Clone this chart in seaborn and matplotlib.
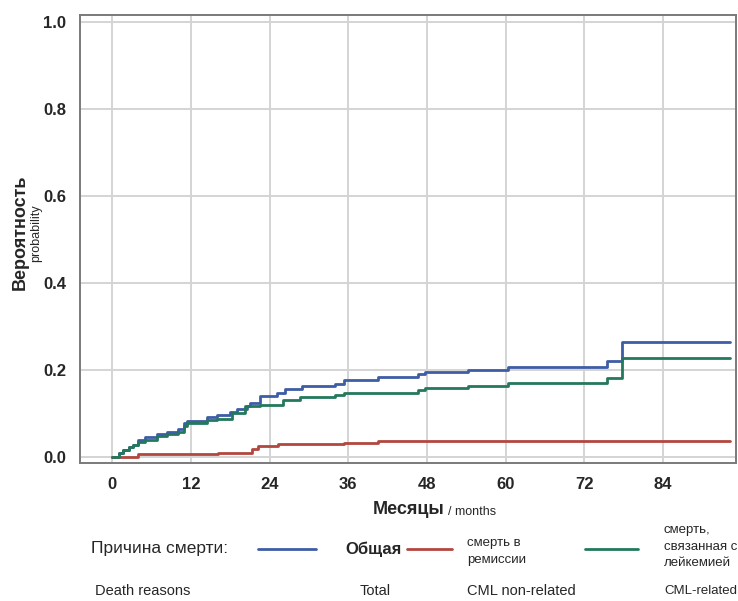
import matplotlib
matplotlib.use("Agg")
import matplotlib.pyplot as plt
from matplotlib.lines import Line2D
import seaborn as sns
import pandas as pd

# ---- data ----
total_t = [0, 1.0, 1.7, 2.5, 3.2, 4.0, 5.0, 6.8, 8.3, 10.1, 10.9, 11.4, 14.4, 16.0, 18.0, 19.0,
           20.5, 21.0, 22.6, 25.1, 26.4, 28.9, 34.0, 35.3, 40.6, 46.7, 47.7, 54.3, 60.4, 75.4, 77.7, 94.2]
total_y = [0, 0.008, 0.016, 0.022, 0.028, 0.039, 0.045, 0.053, 0.058, 0.064, 0.077, 0.083, 0.091, 0.097,
           0.104, 0.110, 0.116, 0.125, 0.139, 0.146, 0.156, 0.162, 0.168, 0.177, 0.183, 0.190, 0.196,
           0.200, 0.206, 0.221, 0.265, 0.265]

cml_t = [0, 1.0, 1.7, 2.5, 3.2, 4.0, 5.0, 6.8, 8.3, 10.1, 10.9, 11.4, 14.4, 16.0, 18.2, 20.3, 22.6,
         26.1, 28.7, 34.0, 35.3, 46.7, 47.7, 54.3, 60.4, 75.4, 77.7, 94.2]
cml_y = [0, 0.008, 0.016, 0.022, 0.028, 0.035, 0.040, 0.047, 0.052, 0.058, 0.071, 0.077, 0.084, 0.088,
         0.100, 0.116, 0.120, 0.131, 0.137, 0.143, 0.147, 0.154, 0.159, 0.163, 0.169, 0.181, 0.227, 0.227]

rem_t = [0, 4.0, 16.2, 21.3, 22.3, 25.3, 35.4, 40.6, 94.2]
rem_y = [0, 0.006, 0.010, 0.018, 0.024, 0.029, 0.033, 0.037, 0.037]

series_names = ["Общая", "смерть в ремиссии", "смерть, связанная с лейкемией"]
series_colors = ["#3d5da6", "#b2473f", "#23795c"]

x_ticks = [0, 12, 24, 36, 48, 60, 72, 84]
y_ticks = [0.0, 0.2, 0.4, 0.6, 0.8, 1.0]

# ---- build table ----
frames = []
for name, t, y in zip(series_names, [total_t, rem_t, cml_t], [total_y, rem_y, cml_y]):
    frames.append(pd.DataFrame({"t": t, "p": y, "s": name}))
df = pd.concat(frames, ignore_index=True)

sns.set_style("whitegrid")
plt.rcParams["font.family"] = ["Liberation Sans Narrow", "Liberation Sans", "DejaVu Sans"]

fig = plt.figure(figsize=(7.38, 6.01), dpi=100)
ax = fig.add_axes([80 / 738, 1 - 463 / 601, (736 - 80) / 738, (463 - 15) / 601])

sns.lineplot(data=df, x="t", y="p", hue="s", hue_order=series_names,
             palette=dict(zip(series_names, series_colors)), estimator=None,
             drawstyle="steps-post", linewidth=2.0, legend=False, ax=ax, sort=False)

ax.set_xlim(-4.9, 95.1)
ax.set_ylim(-0.014, 1.016)
ax.set_xticks(x_ticks)
ax.set_yticks(y_ticks)
ax.set_xticklabels([str(v) for v in x_ticks], fontsize=12, fontweight="bold")
ax.set_yticklabels([f"{v:.1f}" for v in y_ticks], fontsize=12, fontweight="bold")
ax.grid(True, color="#d4d4d4", linewidth=1.4)
for sp in ax.spines.values():
    sp.set_color("#7a7a7a")
    sp.set_linewidth(1.4)
ax.tick_params(axis="both", length=6, width=1.2, color="#7a7a7a", direction="out", pad=4)
ax.set_xlabel("")
ax.set_ylabel("")

# axis labels
fig.text(373 / 738, 1 - 510 / 601, "Месяцы", fontsize=13, fontweight="bold", ha="left", va="center")
fig.text(448 / 738, 1 - 512 / 601, "/ months", fontsize=9, ha="left", va="center")
fig.text(20 / 738, 1 - 232 / 601, "Вероятность", fontsize=13, fontweight="bold", rotation=90,
         ha="center", va="center")
fig.text(36 / 738, 1 - 233 / 601, "probability", fontsize=9, rotation=90, ha="center", va="center")

# legend row
ly = 1 - 549 / 601
fig.text(91 / 738, ly, "Причина смерти:", fontsize=12.5, ha="left", va="center")
for (x0, x1), c in zip([(258, 316), (407, 452), (585, 638)], series_colors):
    fig.add_artist(Line2D([x0 / 738, x1 / 738], [ly, ly], color=c, linewidth=2.0))
fig.text(345 / 738, ly, "Общая", fontsize=12, fontweight="bold", ha="left", va="center")
fig.text(467 / 738, ly - 0.004, "смерть в\nремиссии", fontsize=9.5, ha="left", va="center",
         linespacing=1.5)
fig.text(664 / 738, ly + 0.004, "смерть,\nсвязанная с\nлейкемией", fontsize=9.5, ha="left",
         va="center", linespacing=1.5)

by = 1 - 591 / 601
fig.text(95 / 738, by, "Death reasons", fontsize=10.5, ha="left", va="center")
fig.text(360 / 738, by, "Total", fontsize=10.5, ha="left", va="center")
fig.text(467 / 738, by, "CML non-related", fontsize=10.5, ha="left", va="center")
fig.text(664 / 738, by, "CML-related", fontsize=9.5, ha="left", va="center")

fig.savefig("out.png", dpi=100)
